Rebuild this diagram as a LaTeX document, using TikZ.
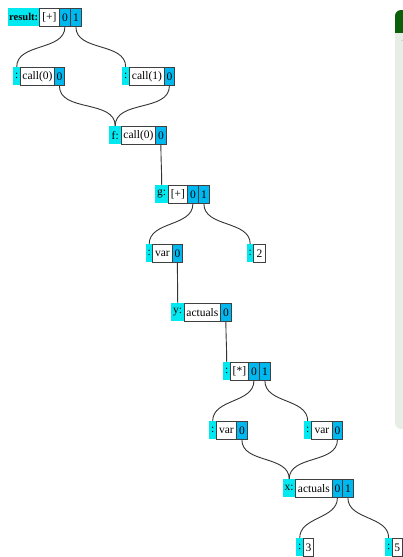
\documentclass[tikz,border=0pt]{standalone}
\usepackage{fontspec}
\setmainfont{Liberation Serif}
\definecolor{labc}{HTML}{00E8F0}
\definecolor{portc}{HTML}{00B8F0}
\definecolor{boxline}{HTML}{404040}
\definecolor{edgec}{HTML}{333333}
\definecolor{pangreen}{HTML}{0A600A}
\definecolor{panbody}{HTML}{E6EEE6}
\begin{document}
\begin{tikzpicture}[x=1pt,y=1pt,
  cell/.style={anchor=north west,inner sep=0pt,minimum height=18pt,font=\fontsize{11.5}{11.5}\selectfont},
  lab/.style={cell,fill=labc},
  body/.style={cell,fill=white,draw=boxline,line width=0.8pt},
  port/.style={cell,fill=portc,draw=boxline,line width=0.8pt},
  edge/.style={draw=edgec,line width=0.9pt,out=-90,in=90}]
\useasboundingbox (0,0) rectangle (402,-557);
% side panel
\fill[panbody,rounded corners=6pt] (395,-10) rectangle (415,-429);
\fill[pangreen,rounded corners=6pt] (395,-10) rectangle (415,-40);
\fill[panbody] (395,-33) rectangle (415,-40);
% row 1
\node[lab,minimum width=31pt,font=\fontsize{10.5}{10.5}\selectfont\bfseries] (rL) at (8,-8) {result:};
\node[body,minimum width=20pt] (rB) at (39,-8) {[+]};
\node[port,minimum width=11pt] (rP0) at (59,-8) {0};
\node[port,minimum width=11pt] (rP1) at (70,-8) {1};
% row 2
\node[lab,minimum width=7pt] (aL) at (13,-67) {:};
\node[body,minimum width=34pt] (aB) at (20,-67) {call(0)};
\node[port,minimum width=10pt] (aP) at (54,-67) {0};
\node[lab,minimum width=7pt] (bL) at (122,-67) {:};
\node[body,minimum width=35pt] (bB) at (129,-67) {call(1)};
\node[port,minimum width=10pt] (bP) at (164,-67) {0};
% row 3
\node[lab,minimum width=12pt] (fL) at (109,-126) {f:};
\node[body,minimum width=34pt] (fB) at (121,-126) {call(0)};
\node[port,minimum width=11pt] (fP) at (155,-126) {0};
% row 4
\node[lab,minimum width=13pt] (gL) at (155,-185) {g:};
\node[body,minimum width=19pt] (gB) at (168,-185) {[+]};
\node[port,minimum width=11pt] (gP0) at (187,-185) {0};
\node[port,minimum width=11pt] (gP1) at (198,-185) {1};
% row 5
\node[lab,minimum width=6pt] (vL) at (146,-244) {:};
\node[body,minimum width=20pt] (vB) at (152,-244) {var};
\node[port,minimum width=10pt] (vP) at (172,-244) {0};
\node[lab,minimum width=6pt] (tL) at (247,-244) {:};
\node[body,minimum width=12pt] (tB) at (253,-244) {2};
% row 6
\node[lab,minimum width=13pt] (yL) at (171,-303) {y:};
\node[body,minimum width=36pt] (yB) at (184,-303) {actuals};
\node[port,minimum width=11pt] (yP) at (220,-303) {0};
% row 7
\node[lab,minimum width=7pt] (mL) at (223,-362) {:};
\node[body,minimum width=18pt] (mB) at (230,-362) {[*]};
\node[port,minimum width=11pt] (mP0) at (248,-362) {0};
\node[port,minimum width=11pt] (mP1) at (259,-362) {1};
% row 8
\node[lab,minimum width=7pt] (v1L) at (209,-421) {:};
\node[body,minimum width=20pt] (v1B) at (216,-421) {var};
\node[port,minimum width=11pt] (v1P) at (236,-421) {0};
\node[lab,minimum width=7pt] (v2L) at (304,-421) {:};
\node[body,minimum width=21pt] (v2B) at (311,-421) {var};
\node[port,minimum width=10pt] (v2P) at (332,-421) {0};
% row 9
\node[lab,minimum width=12pt] (xL) at (283,-479) {x:};
\node[body,minimum width=37pt] (xB) at (295,-479) {actuals};
\node[port,minimum width=10pt] (xP0) at (332,-479) {0};
\node[port,minimum width=11pt] (xP1) at (342,-479) {1};
% row 10
\node[lab,minimum width=7pt] (c3L) at (296,-538) {:};
\node[body,minimum width=10pt] (c3B) at (303,-538) {3};
\node[lab,minimum width=7pt] (c5L) at (385,-538) {:};
\node[body,minimum width=9.5pt] (c5B) at (392,-538) {5};
% edges
\draw[edge] (rP0.south) to (aL.north);
\draw[edge] (rP1.south) to (bL.north);
\draw[edge] (aP.south) to (fL.north);
\draw[edge] (bP.south) to (fL.north);
\draw[edge] (fP.south) to (gL.north);
\draw[edge] (gP0.south) to (vL.north);
\draw[edge] (gP1.south) to (tL.north);
\draw[edge] (vP.south) to (yL.north);
\draw[edge] (yP.south) to (mL.north);
\draw[edge] (mP0.south) to (v1L.north);
\draw[edge] (mP1.south) to (v2L.north);
\draw[edge] (v1P.south) to (xL.north);
\draw[edge] (v2P.south) to (xL.north);
\draw[edge] (xP0.south) to (c3L.north);
\draw[edge] (xP1.south) to (c5L.north);
\end{tikzpicture}
\end{document}
